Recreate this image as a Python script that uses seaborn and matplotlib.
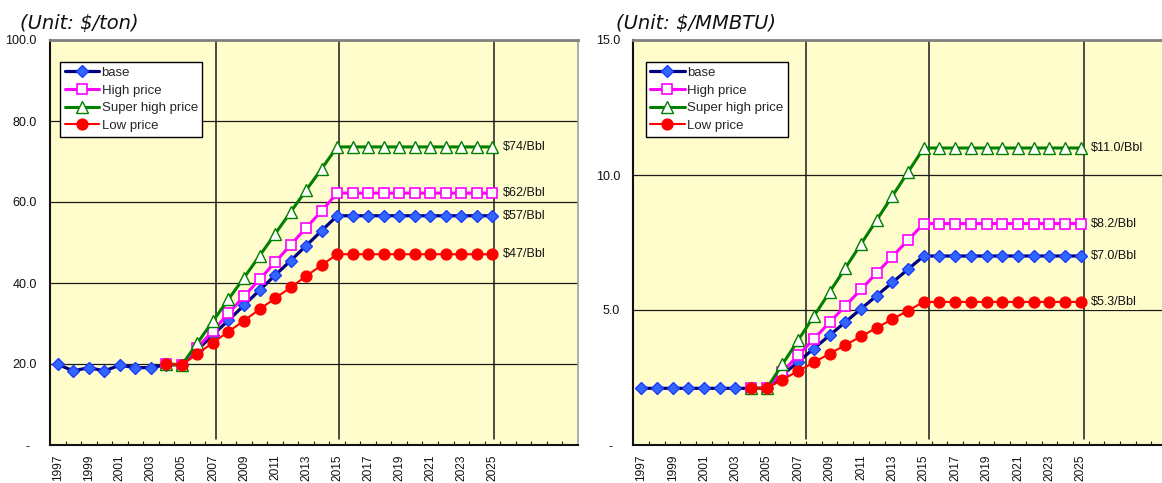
import matplotlib
matplotlib.use("Agg")
import matplotlib.pyplot as plt
from matplotlib.ticker import FixedLocator, FuncFormatter
import numpy as np
import pandas as pd
import seaborn as sns

# ---- data -------------------------------------------------------------
years = list(range(1997, 2026))
proj_years = list(range(2004, 2026))

# Coal price, $/ton
coal_base = [19.9, 18.3, 19.1, 18.3, 19.7, 19.1, 19.1, 19.8, 19.8, 23.5,
             27.2, 30.8, 34.5, 38.2, 41.9, 45.5, 49.2, 52.9, 56.6, 56.6,
             56.6, 56.6, 56.6, 56.6, 56.6, 56.6, 56.6, 56.6, 56.6]
coal_high = [20.0, 19.8, 24.0, 28.2, 32.5, 36.7, 40.9, 45.1, 49.4, 53.6,
             57.8, 62.2, 62.2, 62.2, 62.2, 62.2, 62.2, 62.2, 62.2, 62.2,
             62.2, 62.2]
coal_super = [20.0, 19.8, 25.2, 30.6, 36.0, 41.3, 46.7, 52.1, 57.5, 62.9,
              68.2, 73.6, 73.6, 73.6, 73.6, 73.6, 73.6, 73.6, 73.6, 73.6,
              73.6, 73.6]
coal_low = [20.0, 19.8, 22.5, 25.3, 28.0, 30.7, 33.5, 36.2, 38.9, 41.7,
            44.4, 47.1, 47.1, 47.1, 47.1, 47.1, 47.1, 47.1, 47.1, 47.1,
            47.1, 47.1]

# Gas price, $/MMBTU
gas_base = [2.1, 2.1, 2.1, 2.1, 2.1, 2.1, 2.1, 2.1, 2.1, 2.59,
            3.08, 3.57, 4.06, 4.55, 5.04, 5.53, 6.02, 6.51, 7.0, 7.0,
            7.0, 7.0, 7.0, 7.0, 7.0, 7.0, 7.0, 7.0, 7.0]
gas_high = [2.1, 2.1, 2.71, 3.32, 3.93, 4.54, 5.15, 5.76, 6.37, 6.98,
            7.59, 8.2, 8.2, 8.2, 8.2, 8.2, 8.2, 8.2, 8.2, 8.2,
            8.2, 8.2]
gas_super = [2.1, 2.1, 2.99, 3.88, 4.77, 5.66, 6.55, 7.44, 8.33, 9.22,
             10.11, 11.0, 11.0, 11.0, 11.0, 11.0, 11.0, 11.0, 11.0, 11.0,
             11.0, 11.0]
gas_low = [2.1, 2.1, 2.42, 2.74, 3.06, 3.38, 3.70, 4.02, 4.34, 4.66,
           4.98, 5.3, 5.3, 5.3, 5.3, 5.3, 5.3, 5.3, 5.3, 5.3,
           5.3, 5.3]

series_names = ["base", "High price", "Super high price", "Low price"]
left_title = "(Unit: $/ton)"
right_title = "(Unit: $/MMBTU)"

# ---- styling ----------------------------------------------------------
sns.set_style("white")
plt.rcParams["font.family"] = ["Liberation Sans", "DejaVu Sans"]

BG = "#FFFDCC"
styles = {
    "base": dict(color="#000080", lw=2.3, marker="D", ms=6.3,
                 mfc="#3366FF", mec="#1a3dff", mew=1.0),
    "High price": dict(color="#FF00FF", lw=2.2, marker="s", ms=7.2,
                       mfc="white", mec="#FF00FF", mew=1.2),
    "Super high price": dict(color="#008000", lw=2.2, marker="^", ms=8.5,
                             mfc="white", mec="#008000", mew=1.0),
    "Low price": dict(color="#FF0000", lw=1.5, marker="o", ms=7.8,
                      mfc="#FF0000", mec="#FF0000", mew=1.0),
}

W, H = 1162, 483
fig = plt.figure(figsize=(W / 100, H / 100), dpi=100)


def make_axes(x0_px, w_px):
    return fig.add_axes([x0_px / W, 38 / H, w_px / W, 405 / H])


def draw_panel(ax, data, ymax, ystep, vlines, label_fmt, legend_x):
    ax.set_facecolor(BG)
    for name in series_names:
        xs, ys = data[name]
        st = styles[name]
        df = pd.DataFrame({"year": xs, "value": ys})
        sns.lineplot(data=df, x="year", y="value", ax=ax, color=st["color"],
                     linewidth=st["lw"], marker=st["marker"],
                     markersize=st["ms"], markerfacecolor=st["mfc"],
                     markeredgecolor=st["mec"], markeredgewidth=st["mew"],
                     label=name, legend=False, zorder=3)
        last = ys[-1]
        ax.annotate(label_fmt.format(last), xy=(xs[-1], last),
                    xytext=(7.5, 0), textcoords="offset points",
                    ha="left", va="center", fontsize=9, color="#111111",
                    bbox=dict(boxstyle="square,pad=0.15", fc=BG, ec="none"),
                    zorder=4)

    ax.set_xlim(1996.5, 2030.5)
    ax.set_ylim(0, ymax)
    ax.set_xlabel("")
    ax.set_ylabel("")

    # horizontal grid
    for yv in np.arange(ystep, ymax, ystep):
        ax.axhline(yv, color="#1a1a1a", lw=0.9, zorder=1)
    # vertical reference lines
    for xv in vlines:
        ax.plot([xv, xv], [ymax * 0.0155, ymax], color="#1a1a1a", lw=1.1,
                zorder=1)

    # x axis: labels on odd years, tick marks between categories
    ax.xaxis.set_major_locator(FixedLocator(list(range(1997, 2026, 2))))
    ax.xaxis.set_major_formatter(FuncFormatter(lambda v, p: f"{int(round(v))}"))
    ax.xaxis.set_minor_locator(FixedLocator(np.arange(1997.5, 2030, 1.0)))
    ax.tick_params(axis="x", which="major", length=0, pad=7, labelsize=8.6,
                   labelrotation=90, colors="#111111")
    ax.tick_params(axis="x", which="minor", length=3, width=0.8,
                   direction="in", color="#222222", bottom=True)

    # y axis
    ax.yaxis.set_major_locator(FixedLocator(np.arange(0, ymax + 0.01, ystep)))
    ax.yaxis.set_major_formatter(
        FuncFormatter(lambda v, p: "-  " if abs(v) < 1e-9 else f"{v:.1f}"))
    ax.tick_params(axis="y", length=0, pad=9.5, labelsize=9,
                   colors="#111111")

    for side in ("left", "bottom"):
        ax.spines[side].set_color("#111111")
        ax.spines[side].set_linewidth(1.5)
    ax.spines["top"].set_color("#808080")
    ax.spines["top"].set_linewidth(2.0)
    ax.spines["right"].set_color("#a0a0a0")
    ax.spines["right"].set_linewidth(1.2)
    for s in ax.spines.values():
        s.set_zorder(5)

    leg = ax.legend(loc="upper left", bbox_to_anchor=(legend_x, 0.946),
                    borderaxespad=0, frameon=True, fancybox=False,
                    framealpha=1, edgecolor="black", facecolor="white",
                    fontsize=9.5, handlelength=2.6, handletextpad=0.2,
                    labelspacing=0.42, borderpad=0.35)
    leg.get_frame().set_linewidth(1.0)
    leg.set_zorder(6)


left_data = {
    "base": (years, coal_base),
    "High price": (proj_years, coal_high),
    "Super high price": (proj_years, coal_super),
    "Low price": (proj_years, coal_low),
}
right_data = {
    "base": (years, gas_base),
    "High price": (proj_years, gas_high),
    "Super high price": (proj_years, gas_super),
    "Low price": (proj_years, gas_low),
}

ax1 = make_axes(50, 527.7)
draw_panel(ax1, left_data, 100, 20, [2007.2, 2015.14, 2025.1],
           "${:.0f}/Bbl", 0.019)

ax2 = make_axes(633.3, 533.8)
draw_panel(ax2, right_data, 15, 5, [2007.5, 2015.35, 2025.2],
           "${:.1f}/Bbl", 0.0232)

fig.text(20 / W, 1 - 23 / H, left_title, ha="left", va="center",
         fontsize=14, style="italic", family="DejaVu Sans", color="#111111")
fig.text(616 / W, 1 - 23 / H, right_title, ha="left", va="center",
         fontsize=14, style="italic", family="DejaVu Sans", color="#111111")

fig.savefig("out.png", dpi=100, facecolor="white")
